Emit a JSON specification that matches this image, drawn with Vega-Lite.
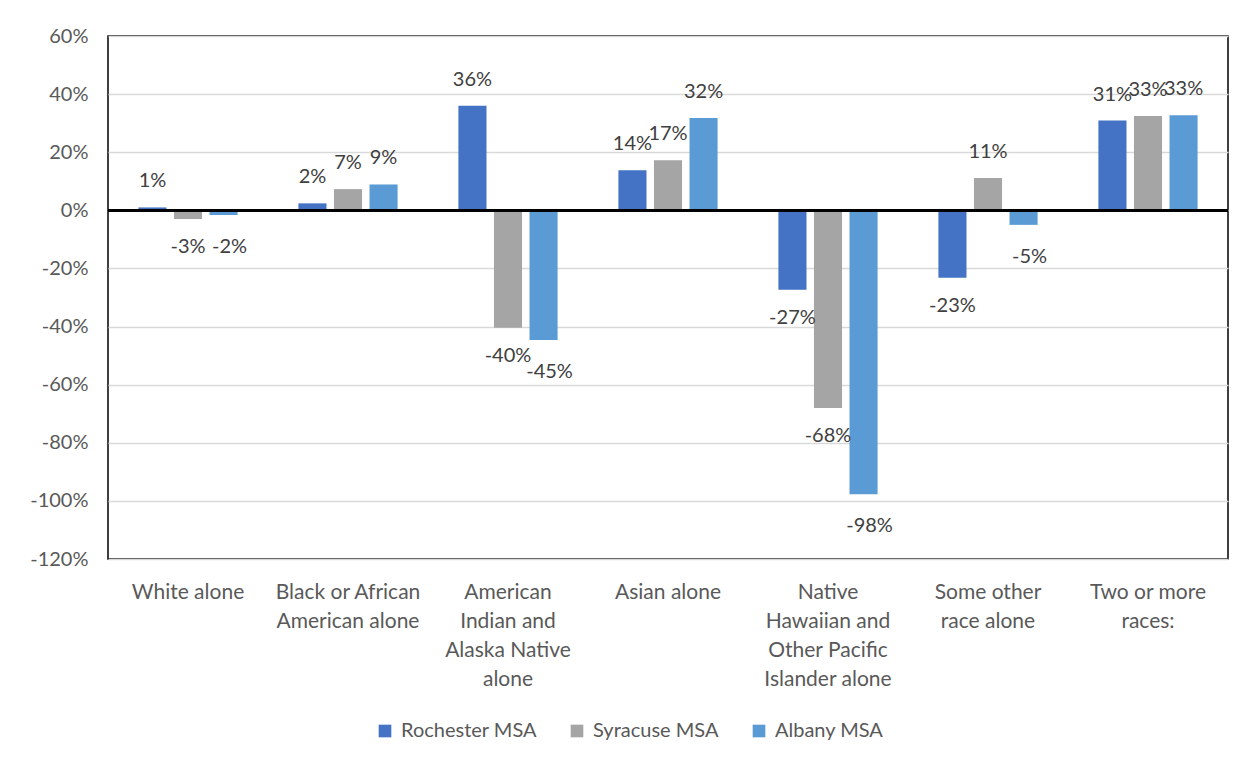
{
  "$schema": "https://vega.github.io/schema/vega-lite/v6.json",
  "width": 1120,
  "height": 523,
  "autosize": {"type": "none"},
  "padding": {"left": 108, "top": 36, "right": 24, "bottom": 209},
  "background": "white",
  "config": {
    "font": "Lato",
    "locale": {"number": {"decimal": ".", "thousands": ",", "grouping": [3], "currency": ["$", ""], "minus": "-"}},
    "view": {"stroke": "#000000", "strokeWidth": 1.5},
    "axis": {"labelFont": "Lato", "labelFontSize": 20, "labelColor": "#595959"}
  },
  "data": {
    "values": [
      {"race": "White alone", "msa": "Rochester MSA", "value": 0.01},
      {"race": "White alone", "msa": "Syracuse MSA", "value": -0.03},
      {"race": "White alone", "msa": "Albany MSA", "value": -0.016},
      {"race": "Black or African|American alone", "msa": "Rochester MSA", "value": 0.024},
      {"race": "Black or African|American alone", "msa": "Syracuse MSA", "value": 0.073},
      {"race": "Black or African|American alone", "msa": "Albany MSA", "value": 0.089},
      {"race": "American|Indian and|Alaska Native|alone", "msa": "Rochester MSA", "value": 0.36},
      {"race": "American|Indian and|Alaska Native|alone", "msa": "Syracuse MSA", "value": -0.404},
      {"race": "American|Indian and|Alaska Native|alone", "msa": "Albany MSA", "value": -0.446},
      {"race": "Asian alone", "msa": "Rochester MSA", "value": 0.138},
      {"race": "Asian alone", "msa": "Syracuse MSA", "value": 0.172},
      {"race": "Asian alone", "msa": "Albany MSA", "value": 0.318},
      {"race": "Native|Hawaiian and|Other Pacific|Islander alone", "msa": "Rochester MSA", "value": -0.273},
      {"race": "Native|Hawaiian and|Other Pacific|Islander alone", "msa": "Syracuse MSA", "value": -0.68},
      {"race": "Native|Hawaiian and|Other Pacific|Islander alone", "msa": "Albany MSA", "value": -0.977},
      {"race": "Some other|race alone", "msa": "Rochester MSA", "value": -0.232},
      {"race": "Some other|race alone", "msa": "Syracuse MSA", "value": 0.111},
      {"race": "Some other|race alone", "msa": "Albany MSA", "value": -0.05},
      {"race": "Two or more|races:", "msa": "Rochester MSA", "value": 0.309},
      {"race": "Two or more|races:", "msa": "Syracuse MSA", "value": 0.325},
      {"race": "Two or more|races:", "msa": "Albany MSA", "value": 0.327}
    ]
  },
  "encoding": {
    "x": {
      "field": "race",
      "type": "nominal",
      "sort": null,
      "scale": {"paddingInner": 0.38, "paddingOuter": 0.19},
      "axis": {
        "title": null,
        "labelAngle": 0,
        "ticks": false,
        "domain": false,
        "labelPadding": 22,
        "labelBaseline": "top",
        "labelLineHeight": 29,
        "labelFontSize": 21,
        "labelExpr": "split(datum.label, '|')"
      }
    },
    "xOffset": {
      "field": "msa",
      "type": "nominal",
      "sort": ["Rochester MSA", "Syracuse MSA", "Albany MSA"],
      "scale": {"paddingInner": 0.21}
    },
    "y": {
      "field": "value",
      "type": "quantitative",
      "scale": {"domain": [-1.2, 0.6], "nice": false},
      "axis": {
        "title": null,
        "format": ".0%",
        "values": [-1.2, -1.0, -0.8, -0.6, -0.4, -0.2, 0, 0.2, 0.4, 0.6],
        "ticks": false,
        "domain": false,
        "labelPadding": 20,
        "gridColor": "#d9d9d9",
        "gridWidth": 1.5
      }
    }
  },
  "layer": [
    {
      "mark": {"type": "bar"},
      "encoding": {
        "color": {
          "field": "msa",
          "type": "nominal",
          "sort": ["Rochester MSA", "Syracuse MSA", "Albany MSA"],
          "scale": {"domain": ["Rochester MSA", "Syracuse MSA", "Albany MSA"], "range": ["#4472C4", "#A5A5A5", "#5B9BD5"]},
          "legend": {
            "title": null,
            "orient": "none",
            "direction": "horizontal",
            "legendX": 267,
            "legendY": 685,
            "symbolType": "square",
            "symbolSize": 160,
            "symbolStrokeWidth": 0,
            "labelFontSize": 20,
            "labelFont": "Lato",
            "labelColor": "#595959",
            "columnPadding": 30,
            "labelOffset": 6
          }
        }
      }
    },
    {
      "transform": [{"filter": "datum.value >= 0"}],
      "mark": {"type": "text", "dy": -26, "fontSize": 20, "color": "#404040", "font": "Lato"},
      "encoding": {"text": {"field": "value", "type": "quantitative", "format": ".0%"}}
    },
    {
      "transform": [{"filter": "datum.value < 0 && datum.msa != 'Albany MSA'"}],
      "mark": {"type": "text", "dy": 28, "fontSize": 20, "color": "#404040", "font": "Lato"},
      "encoding": {"text": {"field": "value", "type": "quantitative", "format": ".0%"}}
    },
    {
      "transform": [{"filter": "datum.value < 0 && datum.msa == 'Albany MSA'"}],
      "mark": {"type": "text", "dy": 32, "dx": 6, "fontSize": 20, "color": "#404040", "font": "Lato"},
      "encoding": {"text": {"field": "value", "type": "quantitative", "format": ".0%"}}
    },
    {
      "mark": {"type": "rule", "color": "#000000", "strokeWidth": 2.5},
      "encoding": {"y": {"datum": 0}, "x": {"value": 0}, "x2": {"value": 1120}, "xOffset": null}
    }
  ]
}
